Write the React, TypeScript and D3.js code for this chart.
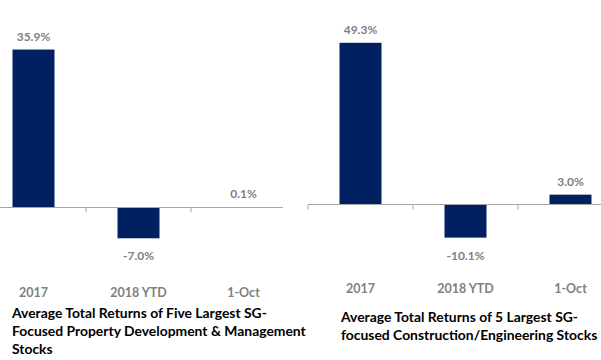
import React from 'react';
import * as d3 from 'd3';

// chart data
const categories = ['2017', '2018 YTD', '1-Oct'];
const propertyReturns = [35.9, -7.0, 0.1];
const constructionReturns = [49.3, -10.1, 3.0];
const propertyTitle = [
  'Average Total Returns of Five Largest SG-',
  'Focused Property Development & Management',
  'Stocks',
];
const constructionTitle = [
  'Average Total Returns of 5 Largest SG-',
  'focused Construction/Engineering Stocks',
];

const W = 601;
const H = 360;
const BAR = '#002060';
const GREY = '#7f7f7f';
const FONT = 'Lato, "Open Sans", sans-serif';

type PanelProps = {
  values: number[];
  title: string[];
  x0: number; // left edge of band range
  x1: number;
  axisFrom: number;
  axisTo: number;
  zeroY: number;
  yMax: number;
  topY: number;
  catY: number;
  titleX: number;
  titleY: number;
};

const Panel = (props: PanelProps) => {
  const { values, title, x0, x1, axisFrom, axisTo, zeroY, yMax, topY, catY, titleX, titleY } = props;

  const xScale = d3.scaleBand<string>()
    .domain(categories)
    .range([x0, x1])
    .paddingInner(0.6)
    .paddingOuter(0.3);

  const yScale = d3.scaleLinear()
    .domain([0, yMax])
    .range([zeroY, topY]);

  const step = xScale.step();
  const ticks = d3.range(categories.length + 1).map(i => x0 + i * step)
    .filter(t => t >= axisFrom && t <= axisTo);

  return (
    <g>
      {values.map((v, i) => {
        const c = categories[i];
        const y = yScale(Math.max(0, v));
        const h = Math.abs(yScale(v) - yScale(0));
        const cx = (xScale(c) as number) + xScale.bandwidth() / 2;
        const ly = v >= 0 ? y - 9 : yScale(v) + 22;
        return (
          <g key={c}>
            <rect x={xScale(c)} y={y} width={xScale.bandwidth()} height={h} fill={BAR} />
            <text x={cx} y={ly} textAnchor="middle" fontSize={12} fontWeight="bold" fill={GREY}>
              {v.toFixed(1) + '%'}
            </text>
            <text x={cx} y={catY} textAnchor="middle" fontSize={12.5} fontWeight="bold" fill={GREY}>
              {c}
            </text>
          </g>
        );
      })}
      {/* category axis */}
      <line x1={axisFrom} x2={axisTo} y1={zeroY} y2={zeroY} stroke="#a6a6a6" strokeWidth={1} />
      {ticks.map(t => (
        <line key={t} x1={t} x2={t} y1={zeroY} y2={zeroY + 5} stroke="#a6a6a6" strokeWidth={1} />
      ))}
      {title.map((line, i) => (
        <text key={i} x={titleX} y={titleY + i * 17.8} fontSize={13.9} fontWeight="bold" fill="#000">
          {line}
        </text>
      ))}
    </g>
  );
};

const App = () => {
  return (
    <svg width={W} height={H} style={{ position: 'absolute', left: 0, top: 0, fontFamily: FONT }}>
      <rect width={W} height={H} fill="#fff" />
      <Panel
        values={propertyReturns}
        title={propertyTitle}
        x0={-19} x1={296}
        axisFrom={0} axisTo={283}
        zeroY={207.5} yMax={40} topY={31.5}
        catY={297}
        titleX={12} titleY={318}
      />
      <Panel
        values={constructionReturns}
        title={constructionTitle}
        x0={308} x1={623}
        axisFrom={308} axisTo={601}
        zeroY={204.5} yMax={50} topY={40.5}
        catY={293}
        titleX={341} titleY={322}
      />
    </svg>
  );
};

export default App;
